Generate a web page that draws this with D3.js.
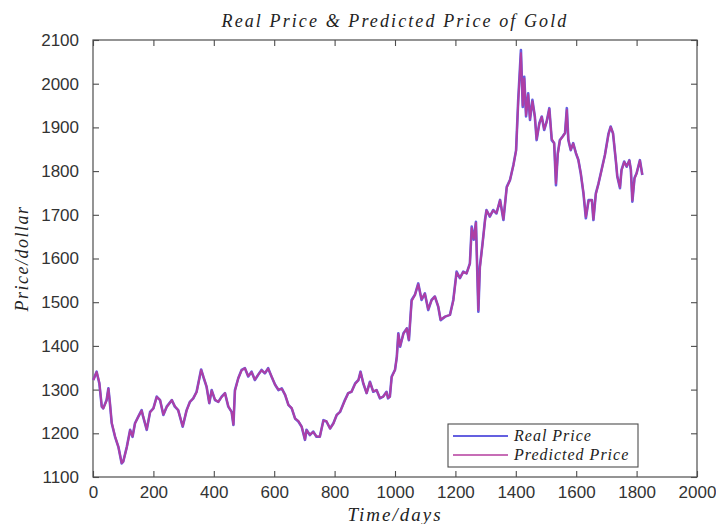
<!DOCTYPE html>
<html><head><meta charset="utf-8">
<script src="https://cdn.jsdelivr.net/npm/d3@7"></script>
<style>
html,body{margin:0;padding:0;background:#fff;}
svg{display:block;}
</style></head>
<body>
<svg id="chart" width="716" height="524"></svg>
<script>
const days = [1,12,21,29,34,45,51,56,62,73,84,95,100,112,123,131,139,150,161,166,178,189,200,211,222,233,244,261,271,282,297,310,321,332,343,358,365,376,385,393,404,415,426,437,448,459,465,470,481,492,503,514,525,536,547,558,569,580,591,603,614,625,636,647,658,669,680,691,702,707,718,729,740,751,763,773,785,796,807,818,834,845,856,868,879,886,895,906,917,928,939,950,961,972,977,983,989,1000,1006,1011,1017,1028,1039,1046,1055,1066,1077,1088,1099,1110,1121,1132,1143,1151,1166,1182,1193,1204,1215,1226,1237,1248,1254,1261,1268,1276,1281,1290,1298,1303,1314,1325,1336,1348,1359,1370,1381,1392,1401,1408,1417,1423,1428,1434,1441,1447,1455,1463,1469,1478,1486,1494,1502,1511,1519,1527,1533,1539,1546,1555,1563,1569,1574,1582,1590,1599,1607,1615,1624,1632,1641,1652,1657,1665,1674,1684,1695,1707,1714,1722,1732,1736,1745,1750,1759,1767,1776,1781,1786,1793,1800,1811,1819];
const realPrice = [1322,1341,1314,1261,1257,1276,1303,1269,1223,1192,1169,1131,1135,1169,1208,1192,1223,1238,1253,1238,1208,1249,1257,1284,1276,1242,1261,1276,1261,1253,1215,1253,1272,1280,1295,1346,1330,1307,1269,1299,1276,1272,1284,1292,1261,1249,1219,1299,1326,1345,1349,1330,1341,1322,1334,1345,1337,1349,1330,1311,1299,1303,1288,1265,1257,1234,1227,1215,1185,1208,1196,1204,1192,1192,1230,1227,1211,1223,1242,1249,1276,1292,1295,1314,1322,1341,1314,1292,1318,1295,1299,1280,1284,1295,1280,1284,1330,1345,1375,1429,1398,1429,1440,1413,1505,1517,1543,1505,1520,1482,1505,1513,1490,1459,1467,1471,1505,1570,1555,1570,1566,1589,1673,1643,1684,1478,1581,1635,1688,1711,1696,1711,1703,1734,1688,1764,1780,1814,1848,1963,2077,1947,2016,1925,1978,1917,1963,1925,1871,1910,1925,1894,1913,1944,1871,1864,1768,1841,1871,1879,1887,1944,1871,1848,1864,1841,1826,1795,1749,1692,1734,1734,1688,1749,1772,1803,1837,1886,1902,1886,1818,1788,1761,1803,1822,1810,1825,1803,1730,1784,1795,1825,1791];
const predictedPrice = [1322,1340,1316,1262,1257,1275,1302,1270,1224,1193,1169,1132,1135,1168,1207,1193,1222,1238,1252,1239,1209,1248,1257,1283,1276,1243,1260,1276,1262,1253,1216,1252,1272,1280,1294,1345,1331,1307,1270,1298,1277,1272,1283,1292,1262,1249,1220,1297,1326,1344,1349,1331,1340,1323,1334,1344,1338,1348,1331,1311,1300,1302,1289,1265,1258,1234,1228,1215,1186,1207,1197,1203,1193,1192,1229,1228,1211,1222,1242,1249,1275,1292,1295,1313,1322,1340,1315,1292,1317,1296,1299,1281,1284,1294,1281,1284,1328,1345,1374,1427,1400,1428,1440,1414,1502,1517,1541,1507,1519,1484,1504,1513,1491,1460,1467,1471,1503,1568,1556,1569,1566,1588,1670,1645,1682,1482,1578,1634,1686,1710,1697,1710,1704,1733,1690,1762,1780,1813,1847,1958,2070,1950,2012,1928,1975,1920,1960,1926,1873,1908,1924,1896,1912,1942,1874,1864,1772,1838,1870,1879,1887,1940,1873,1849,1863,1842,1826,1796,1751,1695,1732,1734,1690,1747,1772,1802,1836,1884,1901,1887,1820,1789,1763,1801,1821,1811,1824,1804,1733,1782,1795,1824,1792];
const xTicks = [0,200,400,600,800,1000,1200,1400,1600,1800,2000];
const yTicks = [1100,1200,1300,1400,1500,1600,1700,1800,1900,2000,2100];
const seriesNames = ["Real Price","Predicted Price"];
const seriesColors = ["#6460e0","#b43c9e"];

const svg = d3.select("#chart");
const L = 93, R = 697, T = 40, B = 477;
const x = d3.scaleLinear().domain([0,2000]).range([L,R]);
const y = d3.scaleLinear().domain([1100,2100]).range([B,T]);
const axisColor = "#4d4d4d";
const tickFont = "'Liberation Sans', Arial, sans-serif";
const serif = "'Liberation Serif','DejaVu Serif',serif";

// box
svg.append("rect").attr("x",L).attr("y",T).attr("width",R-L).attr("height",B-T)
  .attr("fill","#fff").attr("stroke",axisColor).attr("stroke-width",1.2);

// axes (ticks inside)
const tl = 6;
const gx = svg.append("g").attr("transform",`translate(0,${B})`)
  .call(d3.axisBottom(x).tickValues(xTicks).tickSize(-tl).tickPadding(tl+3).tickFormat(d3.format("d")));
const gxt = svg.append("g").attr("transform",`translate(0,${T})`)
  .call(d3.axisTop(x).tickValues(xTicks).tickSize(-tl).tickFormat(""));
const gy = svg.append("g").attr("transform",`translate(${L},0)`)
  .call(d3.axisLeft(y).tickValues(yTicks).tickSize(-tl).tickPadding(tl+8).tickFormat(d3.format("d")));
const gyr = svg.append("g").attr("transform",`translate(${R},0)`)
  .call(d3.axisRight(y).tickValues(yTicks).tickSize(-tl).tickFormat(""));
[gx,gxt,gy,gyr].forEach(g=>{
  g.select(".domain").remove();
  g.selectAll(".tick line").attr("stroke",axisColor).attr("stroke-width",1.1);
  g.selectAll(".tick text").attr("fill","#333").style("font-family",tickFont).style("font-size","17px");
});

// lines
const line = d3.line().x((d,i)=>x(days[i])).y(d=>y(d));
svg.append("path").datum(realPrice).attr("d",line)
  .attr("fill","none").attr("stroke",seriesColors[0]).attr("stroke-width",2.6).attr("stroke-linejoin","round");
svg.append("path").datum(predictedPrice).attr("d",line)
  .attr("fill","none").attr("stroke",seriesColors[1]).attr("stroke-width",2).attr("stroke-opacity",0.92).attr("stroke-linejoin","round");

// title and labels
svg.append("text").attr("x",(L+R)/2).attr("y",27).attr("text-anchor","middle")
  .style("font-family",serif).style("font-style","italic").style("font-size","18px").style("letter-spacing","2.1px").attr("fill","#222")
  .text("Real Price & Predicted Price of Gold");
svg.append("text").attr("x",(L+R)/2).attr("y",521).attr("text-anchor","middle")
  .style("font-family",serif).style("font-style","italic").style("font-size","19px").style("letter-spacing","2px").attr("fill","#222")
  .text("Time/days");
svg.append("text").attr("transform",`translate(28,${(T+B)/2}) rotate(-90)`).attr("text-anchor","middle")
  .style("font-family",serif).style("font-style","italic").style("font-size","18px").style("letter-spacing","1.5px").attr("fill","#222")
  .text("Price/dollar");

// legend
const lg = svg.append("g");
lg.append("rect").attr("x",448).attr("y",424).attr("width",190).attr("height",43)
  .attr("fill","#fff").attr("stroke",axisColor).attr("stroke-width",1.1);
seriesNames.forEach((n,i)=>{
  const yy = 436 + i*19;
  lg.append("line").attr("x1",453).attr("x2",508).attr("y1",yy).attr("y2",yy)
    .attr("stroke",seriesColors[i]).attr("stroke-width",i===0?2:1.3);
  lg.append("text").attr("x",514).attr("y",yy+5)
    .style("font-family",serif).style("font-style","italic").style("font-size","16px").style("letter-spacing","1px").attr("fill","#222")
    .text(n);
});
</script>
</body></html>
